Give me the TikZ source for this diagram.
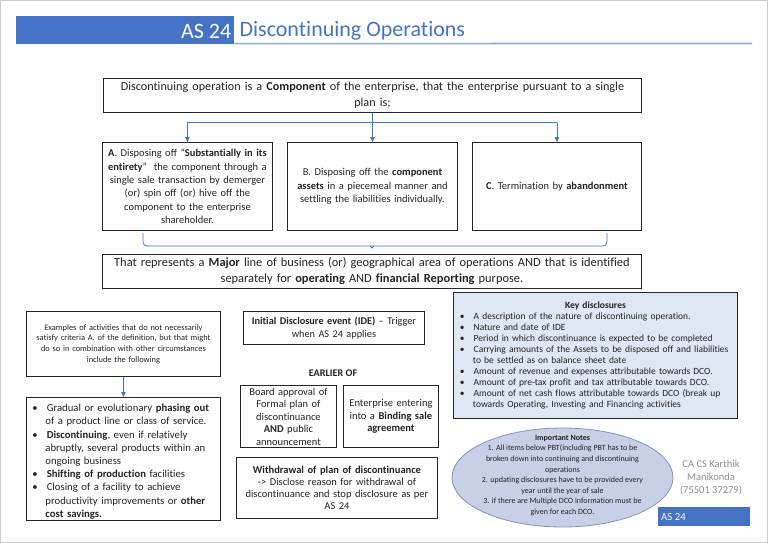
\documentclass[tikz,border=0pt]{standalone}
\usepackage{fontspec}
\setmainfont{Carlito}[Ligatures={TeX,NoCommon}]
\usetikzlibrary{arrows.meta,shapes.geometric,calc}
\definecolor{tblue}{HTML}{4472C4}
\definecolor{lblue}{HTML}{8EAADB}
\definecolor{kfill}{HTML}{DEE7F4}
\definecolor{efill}{HTML}{C8D0E8}
\definecolor{eline}{HTML}{8592B5}
\definecolor{txt}{HTML}{222222}
\newcommand\fs[2]{\fontsize{#1}{#2}\selectfont}
\newenvironment{blist}[2]{\begin{list}{\textbullet}{\setlength\leftmargin{#1}\setlength\labelwidth{4pt}\setlength\labelsep{#2}\setlength\itemsep{0pt}\setlength\parsep{0pt}\setlength\topsep{0pt}\setlength\partopsep{0pt}}}{\end{list}}
\begin{document}
\begin{tikzpicture}[x=1pt,y=-1pt,
  box/.style={draw=black!85, line width=0.9pt, align=center, inner sep=1pt, anchor=north west, text=txt},
  link/.style={draw=tblue, line width=0.8pt},
  arr/.style={link, -{Triangle[length=5pt,width=4.5pt]}}]
\useasboundingbox (0,0) rectangle (768,543);
\draw[black!20, line width=1pt] (0.5,0.5) rectangle (767.5,542.5);
% title
\node[fill=tblue, minimum width=218pt, minimum height=28pt, anchor=north west, inner sep=0pt] (bar) at (16,16) {};
\node[anchor=east, text=white, font=\fs{22}{26}, inner sep=3pt] (t1) at ($(bar.east)+(0,1)$) {AS 24};
\node[anchor=west, text=tblue, font=\fs{22}{26}, inner sep=5pt] (t2) at ($(bar.east)+(0,1)$) {Discontinuing Operations};
\coordinate (ulend) at (752,43.5);
\draw[lblue, line width=1.6pt] ($(bar.south east)+(0,-0.8)$) -- (ulend);
% top box
\node[box, minimum width=538pt, minimum height=34pt, text width=532pt, font=\fs{12.2}{15.5}] (top) at (103,78)
 {Discontinuing operation is a \textbf{Component} of the enterprise, that the enterprise pursuant to a single\\plan is;};
% three boxes
\node[box, minimum width=170pt, minimum height=88pt, text width=167pt, font=\fs{10.5}{13.3}] (A) at (102,142)
 {\textbf{A}. Disposing off ``\textbf{Substantially in its}\\\textbf{entirety}''~ the component through a\\single sale transaction by demerger\\(or) spin off (or) hive off the\\component to the enterprise\\shareholder.};
\node[box, minimum width=170pt, minimum height=88pt, text width=167pt, font=\fs{10.5}{13.3}] (B) at (287,142)
 {B. Disposing off the \textbf{component}\\\textbf{assets} in a piecemeal manner and\\settling the liabilities individually.};
\node[box, minimum width=169pt, minimum height=88pt, text width=166pt, font=\fs{10.5}{13.3}] (C) at (472,142)
 {\textbf{C}. Termination by \textbf{abandonment}};
\coordinate (j) at (0,122.5);
\draw[link] (A.north |- j) -- (C.north |- j);
\draw[arr] (top.south) -- (B.north);
\draw[arr] (A.north |- j) -- (A.north);
\draw[arr] (C.north |- j) -- (C.north);
% bracket
\coordinate (bl) at (143,233);
\coordinate (br) at (607,233);
\coordinate (bm) at (372,246);
\draw[link, rounded corners=4pt] (bl) -- (bl |- bm) -- (br |- bm) -- (br);
\draw[link] ($(bm)+(-2,0)$) -- ($(bm)+(0,2)$) -- ($(bm)+(2,0)$);
% band
\node[box, minimum width=539pt, minimum height=34pt, text width=534pt, font=\fs{12.4}{16}] (band) at (102,254)
 {That represents a \textbf{Major} line of business (or) geographical area of operations AND that is identified\\separately for \textbf{operating} AND \textbf{financial Reporting} purpose.};
% left
\node[box, minimum width=194pt, minimum height=65pt, text width=191pt, font=\fs{8.4}{10.7}] (ex) at (26,311)
 {Examples of activities that do not necessarily\\satisfy criteria A. of the definition, but that might\\do so in combination with other circumstances\\include the following};
\node[box, minimum width=194pt, minimum height=121pt, text width=190pt, align=left, font=\fs{10.7}{13.2}] (bul) at (26,397)
 {\begin{blist}{17pt}{9pt}
 \item Gradual or evolutionary \textbf{phasing out}\newline of a product line or class of service.
 \item \textbf{Discontinuing}, even if relatively\newline abruptly, several products within an\newline ongoing business
 \item \textbf{Shifting of production} facilities
 \item Closing of a facility to achieve\newline productivity improvements or \textbf{other}\newline \textbf{cost savings.}
 \end{blist}};
\draw[arr] (ex.south) -- (bul.north);
% centre
\node[box, minimum width=181pt, minimum height=33pt, text width=178pt, font=\fs{10.3}{13}] (ide) at (243,311)
 {\textbf{Initial Disclosure event (IDE)} -- Trigger\\when AS 24 applies};
\node[anchor=center, font=\bfseries\fs{10.2}{12}, text=txt] (earlier) at (333,373) {EARLIER OF};
\node[box, minimum width=95pt, minimum height=62pt, text width=94pt, font=\fs{10.5}{12.5}] (board) at (240,385)
 {Board approval of\\Formal plan of\\discontinuance\\\textbf{AND} public\\announcement};
\node[box, minimum width=94pt, minimum height=62pt, text width=93pt, font=\fs{10.5}{12.5}] (ent) at (343,385)
 {Enterprise entering\\into a \textbf{Binding sale}\\\textbf{agreement}};
\node[box, minimum width=201pt, minimum height=61pt, text width=198pt, font=\fs{10.5}{12}] (wd) at (236,457)
 {\textbf{Withdrawal of plan of discontinuance}\\-{}> Disclose reason for withdrawal of\\discontinuance and stop disclosure as per\\AS 24};
% right
\node[box, fill=kfill, minimum width=284pt, minimum height=126pt, text width=281pt, align=left, font=\fs{9.5}{10.9}, inner sep=1.5pt] (key) at (453,292)
 {\centering\textbf{Key disclosures}\par
 \begin{blist}{18pt}{9pt}
 \item A description of the nature of discontinuing operation.
 \item Nature and date of IDE
 \item Period in which discontinuance is expected to be completed
 \item Carrying amounts of the Assets to be disposed off and liabilities\newline to be settled as on balance sheet date
 \item Amount of revenue and expenses attributable towards DCO.
 \item Amount of pre-tax profit and tax attributable towards DCO.
 \item Amount of net cash flows attributable towards DCO (break up\newline towards Operating, Investing and Financing activities
 \end{blist}};
\node[ellipse, draw=eline, line width=0.8pt, fill=efill, minimum width=221pt, minimum height=99pt, inner sep=0pt] (notes) at (562.5,477.5) {};
\node[align=center, text=txt, font=\fs{8}{10.6}, inner sep=0pt] (notestext) at ($(notes.center)+(0,-2)$)
 {\textbf{Important Notes}\\1. All items below PBT(including PBT has to be\\broken down into continuing and discontinuing\\operations\\2. updating disclosures have to be provided every\\year until the year of sale\\3. if there are Multiple DCO information must be\\given for each DCO.};
\node[align=center, text=black!45, font=\fs{10.5}{13}] (author) at (711,478) {CA CS Karthik\\Manikonda\\(75501 37279)};
\node[fill=tblue, minimum width=92pt, minimum height=19pt, anchor=north west, inner sep=0pt] (tag) at (658,507) {};
\node[anchor=west, text=white, font=\fs{10.8}{12}, inner sep=3pt] (tagt) at (tag.west) {AS 24};
\end{tikzpicture}
\end{document}
